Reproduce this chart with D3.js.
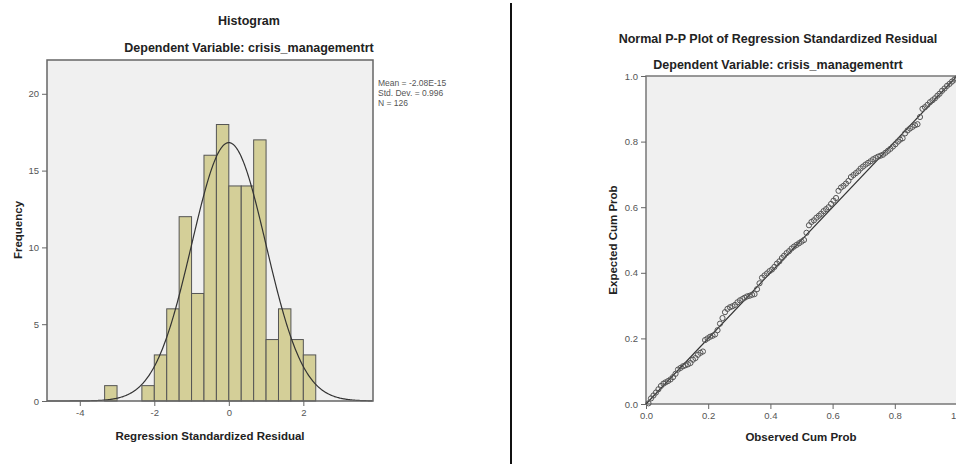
<!DOCTYPE html>
<html>
<head>
<meta charset="utf-8">
<script src="https://cdn.jsdelivr.net/npm/d3@7"></script>
<style>
  body { margin: 0; background: #fff; }
  svg { display: block; font-family: "Liberation Sans", Arial, sans-serif; }
  .tick text { fill: #555; font-size: 9.5px; }
  .tick line, .domain { stroke: #666; }
  .title { font-weight: bold; font-size: 12.5px; fill: #222; }
  .label { font-weight: bold; font-size: 11.5px; fill: #222; }
</style>
</head>
<body>
<script>
// histogram bins (width 1/3) and counts
const binStart = [-10/3, -3, -8/3, -7/3, -2, -5/3, -4/3, -1, -2/3, -1/3, 0, 1/3, 2/3, 1, 4/3, 5/3, 2];
const binCount = [1, 0, 0, 1, 3, 6, 12, 7, 16, 18, 14, 14, 17, 4, 6, 4, 3];
const binWidth = 1/3;
const histXTicks = [-4, -2, 0, 2];
const histYTicks = [0, 5, 10, 15, 20];
const statMean = -2.08e-15, statSd = 0.996, statN = 126;
const statLines = ["Mean = -2.08E-15", "Std. Dev. = 0.996", "N = 126"];

// P-P plot: observed vs expected cumulative probability
const observed = [.008,.016,.024,.032,.040,.048,.056,.063,.071,.079,
  .087,.095,.103,.111,.119,.127,.135,.143,.151,.159,
  .167,.175,.183,.190,.198,.206,.214,.222,.230,.238,
  .246,.254,.262,.270,.278,.286,.294,.302,.310,.317,
  .325,.333,.341,.349,.357,.365,.373,.381,.389,.397,
  .405,.413,.421,.429,.437,.444,.452,.460,.468,.476,
  .484,.492,.500,.508,.516,.524,.532,.540,.548,.556,
  .563,.571,.579,.587,.595,.603,.611,.619,.627,.635,
  .643,.651,.659,.667,.675,.683,.690,.698,.706,.714,
  .722,.730,.738,.746,.754,.762,.770,.778,.786,.794,
  .802,.810,.817,.825,.833,.841,.849,.857,.865,.873,
  .881,.889,.897,.905,.913,.921,.929,.937,.944,.952,
  .960,.968,.976,.984,.992,1.000];
const expected = [.002,.017,.026,.035,.045,.055,.062,.066,.070,.075,
  .082,.092,.105,.110,.115,.118,.121,.125,.135,.140,
  .150,.156,.160,.195,.200,.205,.208,.212,.225,.245,
  .262,.280,.290,.295,.298,.302,.310,.316,.320,.324,
  .328,.330,.333,.335,.350,.368,.385,.392,.398,.405,
  .410,.418,.428,.435,.445,.452,.460,.466,.474,.480,
  .485,.490,.495,.500,.522,.545,.555,.560,.568,.574,
  .580,.588,.594,.600,.610,.620,.628,.650,.660,.665,
  .672,.680,.692,.698,.704,.710,.718,.724,.730,.735,
  .740,.746,.750,.754,.757,.760,.766,.772,.778,.785,
  .792,.800,.806,.810,.825,.834,.840,.845,.850,.853,
  .875,.900,.905,.912,.920,.926,.932,.940,.946,.955,
  .962,.970,.976,.983,.989,.993];
const ppTicks = [0, 0.2, 0.4, 0.6, 0.8, 1.0];

const svg = d3.select("body").append("svg")
  .attr("width", 956)
  .attr("height", 464);

// ---------- histogram ----------
const h = {left: 47, right: 373, top: 60, bottom: 401};
const hx = d3.scaleLinear().domain([-4.88, 3.87]).range([h.left, h.right]);
const hy = d3.scaleLinear().domain([0, 22.2]).range([h.bottom, h.top]);

svg.append("rect")
  .attr("x", h.left).attr("y", h.top)
  .attr("width", h.right - h.left).attr("height", h.bottom - h.top)
  .attr("fill", "#f0f0f0");

svg.append("g").selectAll("rect")
  .data(binStart.map((s, i) => ({s: s, c: binCount[i]})).filter(d => d.c > 0))
  .enter().append("rect")
  .attr("x", d => hx(d.s))
  .attr("y", d => hy(d.c))
  .attr("width", d => hx(d.s + binWidth) - hx(d.s))
  .attr("height", d => hy(0) - hy(d.c))
  .attr("fill", "#d4cf98")
  .attr("stroke", "#555")
  .attr("stroke-width", 1);

// fitted normal curve from the stated mean / sd / N
const curvePts = d3.range(-4.88, 3.87, 0.02).map(x => [x,
  statN * binWidth * Math.exp(-0.5 * Math.pow((x - statMean) / statSd, 2)) / (statSd * Math.sqrt(2 * Math.PI))]);
svg.append("path")
  .datum(curvePts)
  .attr("fill", "none")
  .attr("stroke", "#333")
  .attr("stroke-width", 1.2)
  .attr("d", d3.line().x(d => hx(d[0])).y(d => hy(d[1])));

svg.append("rect")
  .attr("x", h.left).attr("y", h.top)
  .attr("width", h.right - h.left).attr("height", h.bottom - h.top)
  .attr("fill", "none")
  .attr("stroke", "#666")
  .attr("stroke-width", 1.5);

const plain = d => String(d);   // hyphen minus, like the original

svg.append("g")
  .attr("transform", `translate(0,${h.bottom})`)
  .call(d3.axisBottom(hx).tickValues(histXTicks).tickFormat(plain).tickSize(5).tickSizeOuter(0))
  .call(g => g.select(".domain").remove());

svg.append("g")
  .attr("transform", `translate(${h.left},0)`)
  .call(d3.axisLeft(hy).tickValues(histYTicks).tickFormat(plain).tickSize(5).tickSizeOuter(0))
  .call(g => g.select(".domain").remove());

svg.append("text").attr("class", "title")
  .attr("x", 249).attr("y", 25).attr("text-anchor", "middle")
  .text("Histogram");
svg.append("text").attr("class", "title")
  .attr("x", 249).attr("y", 52).attr("text-anchor", "middle")
  .text("Dependent Variable: crisis_managementrt");
svg.append("text").attr("class", "label")
  .attr("x", 210).attr("y", 440).attr("text-anchor", "middle")
  .text("Regression Standardized Residual");
svg.append("text").attr("class", "label")
  .attr("transform", "translate(22,230) rotate(-90)")
  .attr("text-anchor", "middle")
  .text("Frequency");

svg.append("g").selectAll("text")
  .data(statLines)
  .enter().append("text")
  .attr("x", 378)
  .attr("y", (d, i) => 86 + i * 10)
  .attr("font-size", "8.5px")
  .attr("fill", "#555")
  .text(d => d);

// ---------- divider ----------
svg.append("line")
  .attr("x1", 511).attr("x2", 511)
  .attr("y1", 3).attr("y2", 464)
  .attr("stroke", "#111").attr("stroke-width", 2);

// ---------- P-P plot ----------
const p = {left: 646, right: 957, top: 76, bottom: 404};
const px = d3.scaleLinear().domain([0, 1]).range([p.left, p.right]);
const py = d3.scaleLinear().domain([0, 1]).range([p.bottom, p.top]);

svg.append("rect")
  .attr("x", p.left).attr("y", p.top)
  .attr("width", p.right - p.left).attr("height", p.bottom - p.top)
  .attr("fill", "#f0f0f0")
  .attr("stroke", "#777")
  .attr("stroke-width", 1.5);

svg.append("line")
  .attr("x1", px(0)).attr("y1", py(0))
  .attr("x2", px(1)).attr("y2", py(1))
  .attr("stroke", "#333").attr("stroke-width", 1.2);

svg.append("g").selectAll("circle")
  .data(observed.map((o, i) => [o, expected[i]]))
  .enter().append("circle")
  .attr("cx", d => px(d[0]))
  .attr("cy", d => py(d[1]))
  .attr("r", 2.6)
  .attr("fill", "none")
  .attr("stroke", "#555")
  .attr("stroke-width", 1);

svg.append("g")
  .attr("transform", `translate(0,${p.bottom})`)
  .call(d3.axisBottom(px).tickValues(ppTicks).tickFormat(d3.format(".1f")).tickSize(5).tickSizeOuter(0))
  .call(g => g.select(".domain").remove());

svg.append("g")
  .attr("transform", `translate(${p.left},0)`)
  .call(d3.axisLeft(py).tickValues(ppTicks).tickFormat(d3.format(".1f")).tickSize(5).tickSizeOuter(0))
  .call(g => g.select(".domain").remove());

svg.append("text").attr("class", "title")
  .attr("x", 778).attr("y", 43).attr("text-anchor", "middle")
  .text("Normal P-P Plot of Regression Standardized Residual");
svg.append("text").attr("class", "title")
  .attr("x", 778).attr("y", 69).attr("text-anchor", "middle")
  .text("Dependent Variable: crisis_managementrt");
svg.append("text").attr("class", "label")
  .attr("x", 801).attr("y", 441).attr("text-anchor", "middle")
  .text("Observed Cum Prob");
svg.append("text").attr("class", "label")
  .attr("transform", "translate(617,240) rotate(-90)")
  .attr("text-anchor", "middle")
  .text("Expected Cum Prob");
</script>
</body>
</html>
